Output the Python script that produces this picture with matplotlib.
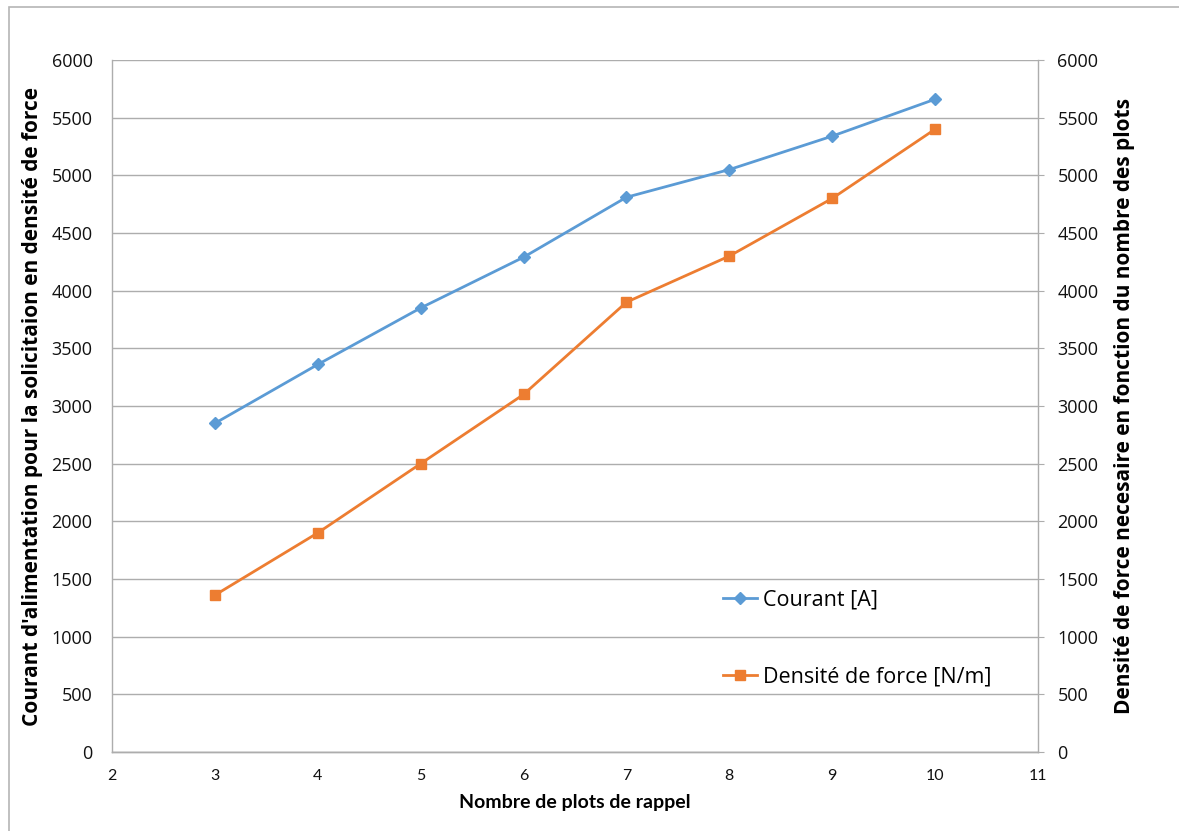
import matplotlib
matplotlib.use("Agg")
import matplotlib.pyplot as plt
from matplotlib.patches import Rectangle

plots = [3, 4, 5, 6, 7, 8, 9, 10]
courant = [2850, 3360, 3850, 4290, 4810, 5050, 5340, 5660]
densite = [1360, 1900, 2500, 3100, 3900, 4300, 4800, 5400]
x_ticks = [2, 3, 4, 5, 6, 7, 8, 9, 10, 11]
y_ticks = list(range(0, 6001, 500))

blue = "#5B9BD5"
orange = "#ED7D31"
grid_c = "#ADADAD"
FONT = ["Open Sans", "DejaVu Sans"]

fig = plt.figure(figsize=(11.79, 8.31), dpi=100)
fig.patches.append(Rectangle((9/1179, -0.1), 1.2, 1 - 7/831 + 0.1, transform=fig.transFigure,
                             fill=False, edgecolor="#B5B5B5", linewidth=1.2))

ax = fig.add_axes([112/1179, 1 - 752/831, (1038 - 112)/1179, (752 - 60)/831])
ax2 = ax.twinx()

ax.set_xlim(2, 11)
ax.set_ylim(0, 6000)
ax2.set_ylim(0, 6000)
ax.set_xticks(x_ticks)
ax.set_yticks(y_ticks)
ax2.set_yticks(y_ticks)
ax.yaxis.grid(True, color=grid_c, linewidth=1.0)
ax.set_axisbelow(True)

for a in (ax, ax2):
    a.spines["top"].set_visible(False)
    for s in ("left", "right", "bottom"):
        a.spines[s].set_color(grid_c)
        a.spines[s].set_linewidth(1.0)
ax.spines["right"].set_visible(False)
ax2.spines["left"].set_visible(False)

ax.tick_params(axis="y", length=0, pad=14, labelsize=13, labelcolor="#111111")
ax.tick_params(axis="x", length=0, pad=12, labelsize=11.5, labelcolor="#111111")
ax2.tick_params(axis="y", length=4, color=grid_c, pad=10, labelsize=13, labelcolor="#111111")
for lab in ax.get_yticklabels() + ax2.get_yticklabels():
    lab.set_fontfamily(FONT)
for lab in ax.get_xticklabels():
    lab.set_fontfamily(["Lato", "DejaVu Sans"])

l1, = ax.plot(plots, courant, color=blue, linewidth=2.0, marker="D", markersize=6,
              label="Courant [A]", zorder=3)
l2, = ax2.plot(plots, densite, color=orange, linewidth=2.0, marker="s", markersize=7,
               label="Densité de force [N/m]", zorder=3)

ax.set_ylabel("Courant d'alimentation pour la solicitaion en densité de force",
              fontsize=15, fontweight="bold", family=FONT)
ax2.set_ylabel("Densité de force necesaire en fonction du nombre des plots",
               fontsize=15, fontweight="bold", family=FONT)
ax.set_xlabel("Nombre de plots de rappel", fontsize=14, fontweight="bold",
              family=["Lato", "DejaVu Sans"], labelpad=8)
ax.yaxis.set_label_coords(-0.0745, 0.5)
ax2.yaxis.set_label_coords(1.082, 0.5)

leg = ax2.legend(handles=[l1, l2], loc="upper left", bbox_to_anchor=(0.65, 0.247),
                 frameon=False, prop={"family": FONT, "size": 15.5},
                 handlelength=1.6, handletextpad=0.3, labelspacing=2.6,
                 borderaxespad=0)

fig.savefig("out.png", dpi=100)
